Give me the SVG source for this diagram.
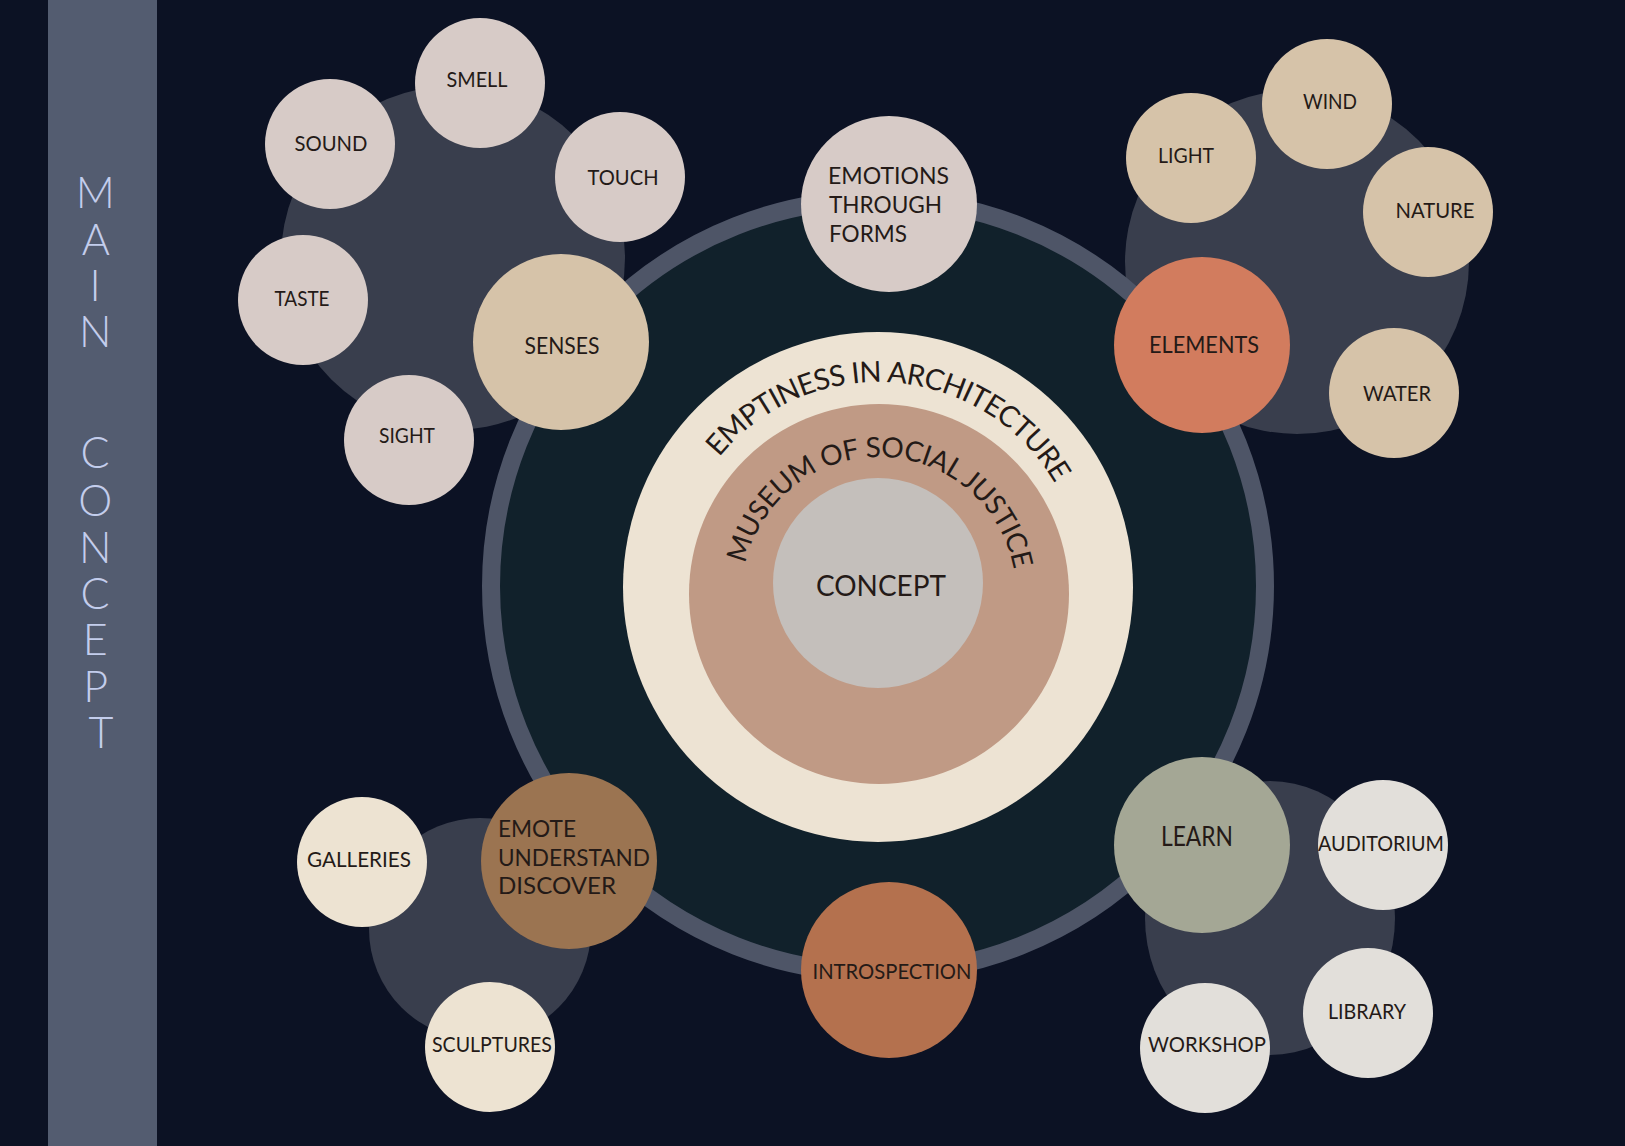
<svg xmlns="http://www.w3.org/2000/svg" xmlns:xlink="http://www.w3.org/1999/xlink" width="1625" height="1146" viewBox="0 0 1625 1146">
  <defs>
    <style>
      .lbl { font-family: Lato, "Liberation Sans", "DejaVu Sans", sans-serif; font-weight: 400; fill: #241a17; text-anchor: middle; font-size: 21px; }
      .big { font-size: 24px; }
      .left { text-anchor: start; }
      .grp { fill: #393e4d; }
      .pink { fill: #d7cbc7; }
      .sand { fill: #d6c3a9; }
      .cream { fill: #ede3d2; }
      .pale { fill: #e2dfda; }
      .curve { font-family: Lato, "Liberation Sans", "DejaVu Sans", sans-serif; font-weight: 400; fill: #241a17; text-anchor: middle; }
      .side { font-family: Lato, "Liberation Sans", "DejaVu Sans", sans-serif; font-weight: 300; font-size: 43px; fill: #c3cdec; text-anchor: middle; }
    </style>
    <path id="arcOuter" d="M 878 792 A 205 205 0 1 1 878 382 A 205 205 0 1 1 878 792"/>
    <path id="arcInner" d="M 879 731 A 137 137 0 1 1 879 457 A 137 137 0 1 1 879 731"/>
  </defs>

  <rect x="0" y="0" width="1625" height="1146" fill="#0c1224"/>
  <rect x="48" y="0" width="109" height="1146" fill="#535c70"/>

  <g id="title">
    <text class="side">
      <tspan x="101" y="208">M</tspan>
      <tspan x="101" y="255">A</tspan>
      <tspan x="101" y="301">I</tspan>
      <tspan x="101" y="347">N</tspan>
      <tspan x="101" y="468">C</tspan>
      <tspan x="101" y="516">O</tspan>
      <tspan x="101" y="563">N</tspan>
      <tspan x="101" y="609">C</tspan>
      <tspan x="101" y="655">E</tspan>
      <tspan x="101" y="702">P</tspan>
      <tspan x="101" y="748">T</tspan>
    </text>
  </g>

  <g id="group-backgrounds">
    <circle class="grp" cx="453" cy="258" r="172"/>
    <circle class="grp" cx="1297" cy="262" r="172"/>
    <circle class="grp" cx="480" cy="929" r="111"/>
    <ellipse class="grp" cx="1270" cy="918" rx="125" ry="137"/>
  </g>

  <g id="connectors"></g>

  <g id="core">
    <circle cx="878" cy="586" r="387" fill="#11212b" stroke="#4e5567" stroke-width="18"/>
    <circle cx="878" cy="587" r="255" fill="#ede3d3"/>
    <circle cx="879" cy="594" r="190" fill="#c09a85"/>
    <circle cx="878" cy="583" r="105" fill="#c4bfbb"/>
    <text class="curve" font-size="29" letter-spacing="-0.8"><textPath xlink:href="#arcOuter" href="#arcOuter" startOffset="51.2%">EMPTINESS IN ARCHITECTURE</textPath></text>
    <text class="curve" font-size="28" letter-spacing="-0.5"><textPath xlink:href="#arcInner" href="#arcInner" startOffset="50.3%">MUSEUM OF SOCIAL JUSTICE</textPath></text>
    <text class="lbl" x="881" y="596" style="font-size:29px" textLength="130" lengthAdjust="spacingAndGlyphs">CONCEPT</text>
  </g>

  <g id="node-smell"><circle class="pink" cx="480" cy="83" r="65"/><text class="lbl" x="477" y="87" textLength="61" lengthAdjust="spacingAndGlyphs">SMELL</text></g>
  <g id="node-sound"><circle class="pink" cx="330" cy="144" r="65"/><text class="lbl" x="331" y="151" textLength="73" lengthAdjust="spacingAndGlyphs">SOUND</text></g>
  <g id="node-touch"><circle class="pink" cx="620" cy="177" r="65"/><text class="lbl" x="623" y="185" textLength="71" lengthAdjust="spacingAndGlyphs">TOUCH</text></g>
  <g id="node-taste"><circle class="pink" cx="303" cy="300" r="65"/><text class="lbl" x="302" y="306" textLength="55" lengthAdjust="spacingAndGlyphs">TASTE</text></g>
  <g id="node-sight"><circle class="pink" cx="409" cy="440" r="65"/><text class="lbl" x="407" y="443" textLength="56" lengthAdjust="spacingAndGlyphs">SIGHT</text></g>
  <g id="node-senses"><circle class="sand" cx="561" cy="342" r="88"/><text class="lbl big" x="562" y="354" textLength="75" lengthAdjust="spacingAndGlyphs">SENSES</text></g>

  <g id="node-wind"><circle class="sand" cx="1327" cy="104" r="65"/><text class="lbl" x="1330" y="109" textLength="54" lengthAdjust="spacingAndGlyphs">WIND</text></g>
  <g id="node-light"><circle class="sand" cx="1191" cy="158" r="65"/><text class="lbl" x="1186" y="163" textLength="56" lengthAdjust="spacingAndGlyphs">LIGHT</text></g>
  <g id="node-nature"><circle class="sand" cx="1428" cy="212" r="65"/><text class="lbl" x="1435" y="218" textLength="79" lengthAdjust="spacingAndGlyphs">NATURE</text></g>
  <g id="node-water"><circle class="sand" cx="1394" cy="393" r="65"/><text class="lbl" x="1397" y="401" textLength="68" lengthAdjust="spacingAndGlyphs">WATER</text></g>
  <g id="node-elements"><circle cx="1202" cy="345" r="88" fill="#d27c5e"/><text class="lbl big" x="1204" y="353" textLength="110" lengthAdjust="spacingAndGlyphs">ELEMENTS</text></g>

  <g id="node-emotions">
    <circle class="pink" cx="889" cy="204" r="88"/>
    <text class="lbl big left" x="828" y="184" textLength="121" lengthAdjust="spacingAndGlyphs">EMOTIONS</text>
    <text class="lbl big left" x="829" y="213" textLength="113" lengthAdjust="spacingAndGlyphs">THROUGH</text>
    <text class="lbl big left" x="829" y="242" textLength="78" lengthAdjust="spacingAndGlyphs">FORMS</text>
  </g>

  <g id="node-introspection"><circle cx="889" cy="970" r="88" fill="#b4714e"/><text class="lbl" x="892" y="979" textLength="159" lengthAdjust="spacingAndGlyphs">INTROSPECTION</text></g>

  <g id="node-galleries"><circle class="cream" cx="362" cy="862" r="65"/><text class="lbl" x="359" y="867" textLength="104" lengthAdjust="spacingAndGlyphs">GALLERIES</text></g>
  <g id="node-sculptures"><circle class="cream" cx="490" cy="1047" r="65"/><text class="lbl" x="492" y="1052" textLength="120" lengthAdjust="spacingAndGlyphs">SCULPTURES</text></g>
  <g id="node-emote">
    <circle cx="569" cy="861" r="88" fill="#9b7451"/>
    <text class="lbl big left" x="498" y="837" textLength="78" lengthAdjust="spacingAndGlyphs">EMOTE</text>
    <text class="lbl big left" x="498" y="866" textLength="152" lengthAdjust="spacingAndGlyphs">UNDERSTAND</text>
    <text class="lbl big left" x="498" y="894" textLength="118" lengthAdjust="spacingAndGlyphs">DISCOVER</text>
  </g>

  <g id="node-learn"><circle cx="1202" cy="845" r="88" fill="#a4a795"/><text class="lbl" x="1197" y="846" style="font-size:26px" textLength="72" lengthAdjust="spacingAndGlyphs">LEARN</text></g>
  <g id="node-auditorium"><circle class="pale" cx="1383" cy="845" r="65"/><text class="lbl" x="1381" y="851" textLength="126" lengthAdjust="spacingAndGlyphs">AUDITORIUM</text></g>
  <g id="node-library"><circle class="pale" cx="1368" cy="1013" r="65"/><text class="lbl" x="1367" y="1019" textLength="78" lengthAdjust="spacingAndGlyphs">LIBRARY</text></g>
  <g id="node-workshop"><circle class="pale" cx="1205" cy="1048" r="65"/><text class="lbl" x="1207" y="1052" textLength="118" lengthAdjust="spacingAndGlyphs">WORKSHOP</text></g>
</svg>
